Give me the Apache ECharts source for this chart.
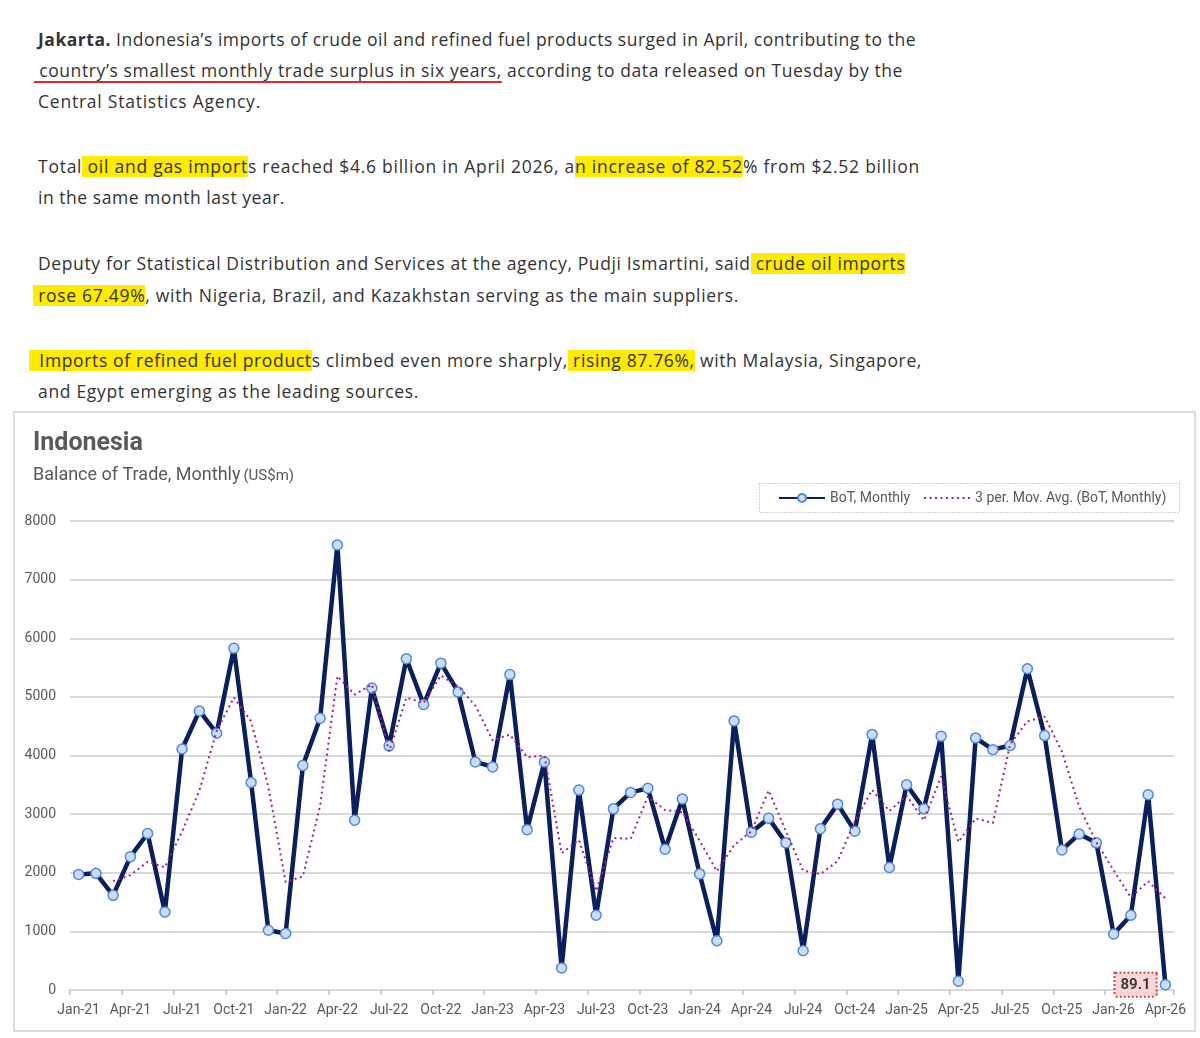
<!DOCTYPE html>
<html>
<head>
<meta charset="utf-8">
<script src="https://cdn.jsdelivr.net/npm/echarts@6/dist/echarts.min.js"></script>
<style>
  html, body { margin: 0; padding: 0; background: #ffffff; }
  body { width: 1200px; height: 1038px; position: relative; overflow: hidden; }
  .ln { position: absolute; left: 38px; white-space: nowrap; font-family: "Open Sans", Lato, sans-serif;
        font-size: 17.5px; line-height: 31px; color: #333333; }
  .hl { background: linear-gradient(#ffeb00, #ffeb00) 0 55% / 100% 21px no-repeat; }
  .ul { text-decoration: underline; text-decoration-color: #e3242b; text-decoration-thickness: 2px; text-underline-offset: 4px; text-decoration-skip-ink: none; }
  #frame { position: absolute; left: 13px; top: 411px; width: 1179px; height: 617px; border: 2px solid #dcdcdc; pointer-events: none; }
  #chart { position: absolute; left: 0; top: 410px; width: 1200px; height: 628px; }
</style>
</head>
<body>
<div class="ln" data-r="916" style="top:24px"><b>Jakarta.</b> Indonesia’s imports of crude oil and refined fuel products surged in April, contributing to the</div>
<div class="ln" data-r="903" style="top:55px;left:34px"><span class="ul">&nbsp;country’s smallest monthly trade surplus in six years,</span> according to data released on Tuesday by the</div>
<div class="ln" data-r="261" style="top:86px">Central Statistics Agency.</div>
<div class="ln" data-r="920" style="top:151px">Total<span class="hl"> oil and gas import</span>s reached $4.6 billion in April 2026, a<span class="hl">n increase of 82.52</span>% from $2.52 billion</div>
<div class="ln" data-r="285" style="top:182px">in the same month last year.</div>
<div class="ln" data-r="906" style="top:248px">Deputy for Statistical Distribution and Services at the agency, Pudji Ismartini, said<span class="hl"> crude oil imports </span></div>
<div class="ln" data-r="739" style="top:280px;left:33px"><span class="hl">&nbsp;rose 67.49%</span>, with Nigeria, Brazil, and Kazakhstan serving as the main suppliers.</div>
<div class="ln" data-r="922" style="top:345px;left:29px"><span class="hl">&nbsp; Imports of refined fuel product</span>s climbed even more sharply,<span class="hl"> rising 87.76%,</span> with Malaysia, Singapore,</div>
<div class="ln" data-r="419" style="top:376px">and Egypt emerging as the leading sources.</div>

<div id="chart"></div>
<div id="frame"></div>

<script>
const months = [
  'Jan-21','Feb-21','Mar-21','Apr-21','May-21','Jun-21','Jul-21','Aug-21','Sep-21','Oct-21','Nov-21','Dec-21',
  'Jan-22','Feb-22','Mar-22','Apr-22','May-22','Jun-22','Jul-22','Aug-22','Sep-22','Oct-22','Nov-22','Dec-22',
  'Jan-23','Feb-23','Mar-23','Apr-23','May-23','Jun-23','Jul-23','Aug-23','Sep-23','Oct-23','Nov-23','Dec-23',
  'Jan-24','Feb-24','Mar-24','Apr-24','May-24','Jun-24','Jul-24','Aug-24','Sep-24','Oct-24','Nov-24','Dec-24',
  'Jan-25','Feb-25','Mar-25','Apr-25','May-25','Jun-25','Jul-25','Aug-25','Sep-25','Oct-25','Nov-25','Dec-25',
  'Jan-26','Feb-26','Mar-26','Apr-26'
];

const botMonthly = [
  1970, 1990, 1615, 2275, 2670, 1330, 4110, 4760, 4380, 5830, 3540, 1020,
  965, 3830, 4635, 7590, 2895, 5150, 4165, 5650, 4870, 5575, 5085, 3890,
  3805, 5380, 2735, 3890, 375, 3410, 1275, 3090, 3370, 3440, 2400, 3260,
  1980, 840, 4590, 2690, 2930, 2510, 670, 2750, 3170, 2710, 4360, 2090,
  3500, 3090, 4330, 150, 4300, 4100, 4170, 5480, 4340, 2390, 2660, 2510,
  955, 1275, 3330, 89.1
];

const movAvg3 = [
  null, null, 1858, 1960, 2187, 2092, 2703, 3400, 4417, 4990, 4583, 3463,
  1842, 1938, 3143, 5352, 5040, 5212, 4070, 4988, 4895, 5365, 5177, 4850,
  4260, 4358, 3973, 4002, 2333, 2558, 1687, 2592, 2578, 3300, 3070, 3033,
  2547, 2027, 2470, 2707, 3403, 2710, 2037, 1977, 2197, 2877, 3413, 3053,
  3317, 2893, 3640, 2523, 2927, 2850, 4190, 4583, 4663, 4070, 3130, 2520,
  2042, 1580, 1853, 1565
];

const yTicks = { min: 0, max: 8000, interval: 1000 };

// fit each article line to its width in the reference by a small letter-spacing tweak
document.querySelectorAll('.ln').forEach(el => {
  const target = parseFloat(el.dataset.r) - el.offsetLeft;
  const w = el.getBoundingClientRect().width;
  const n = el.textContent.length;
  if (n > 1) el.style.letterSpacing = ((target - w) / n) + 'px';
});

const lastIdx = botMonthly.length - 1;
const botData = botMonthly.map((v, i) => i === lastIdx ? {
  value: v,
  label: {
    show: true, position: 'left', distance: 4,
    formatter: '{c}', fontFamily: 'Roboto', fontWeight: 'bold', fontSize: 15, color: '#3a3a3a',
    backgroundColor: '#fcd6d6', borderColor: '#e0393e', borderWidth: 2, borderType: [2, 2],
    padding: [4, 5, 3, 5]
  }
} : v);

const chart = echarts.init(document.getElementById('chart'), null, { renderer: 'canvas' });
const axisFont = { fontFamily: 'Roboto', fontSize: 14, color: '#595959' };

chart.setOption({
  animation: false,
  textStyle: { fontFamily: 'Roboto' },
  title: {
    text: 'Indonesia', left: 33, top: 21, padding: 0, itemGap: 10,
    textStyle: { fontFamily: 'Roboto', fontSize: 25, fontWeight: 'bold', color: '#595959' },
    subtext: '{a|Balance of Trade, Monthly} {b|(US$m)}',
    subtextStyle: {
      rich: {
        a: { fontFamily: 'Roboto', fontSize: 18, color: '#595959' },
        b: { fontFamily: 'Roboto', fontSize: 15, color: '#595959', verticalAlign: 'bottom' }
      }
    }
  },
  legend: {
    left: 778, top: 81, padding: 0, itemWidth: 46, itemHeight: 10, itemGap: 13,
    textStyle: { fontFamily: 'Roboto', fontSize: 14, color: '#595959' },
    data: [
      { name: 'BoT, Monthly' },
      { name: '3 per. Mov. Avg. (BoT, Monthly)', itemStyle: { opacity: 0 } }
    ]
  },
  graphic: [{
    type: 'rect', left: 757, top: 71, silent: true,
    shape: { width: 420, height: 29 },
    style: { fill: 'none', stroke: '#a6a6a6', lineWidth: 1, lineDash: [1, 2] }
  }],
  grid: { left: 70, right: 26, top: 111, bottom: 48, containLabel: false },
  xAxis: {
    type: 'category', data: months, boundaryGap: true,
    axisLine: { lineStyle: { color: '#d9d9d9', width: 2 } },
    axisTick: { show: true, interval: 2, length: 5, lineStyle: { color: '#bfbfbf', width: 1.5 } },
    axisLabel: Object.assign({ interval: 2, margin: 13 }, axisFont),
    splitLine: { show: false }
  },
  yAxis: {
    type: 'value', min: yTicks.min, max: yTicks.max, interval: yTicks.interval,
    axisLine: { show: false }, axisTick: { show: false },
    axisLabel: Object.assign({ margin: 14, formatter: v => String(v) }, axisFont),
    splitLine: { lineStyle: { color: '#d9d9d9', width: 2 } }
  },
  series: [
    {
      name: 'BoT, Monthly', type: 'line', data: botData,
      symbol: 'circle', symbolSize: 10, showAllSymbol: true,
      lineStyle: { color: '#0b1f5c', width: 4.5, join: 'round' },
      itemStyle: { color: '#c9defa', borderColor: '#5386dc', borderWidth: 1.5 },
      z: 2
    },
    {
      name: '3 per. Mov. Avg. (BoT, Monthly)', type: 'line', data: movAvg3,
      symbol: 'none', connectNulls: false,
      lineStyle: { color: '#9e1f8e', width: 2, type: [2, 3.5] },
      itemStyle: { color: '#9e1f8e' },
      z: 3
    }
  ]
});
</script>
</body>
</html>
